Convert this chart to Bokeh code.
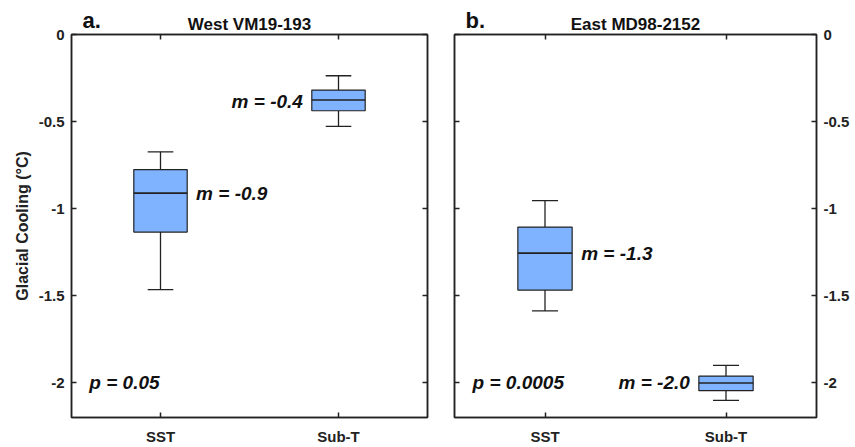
from bokeh.plotting import figure
from bokeh.layouts import row, column
from bokeh.models import (LinearAxis, FixedTicker, NumeralTickFormatter, Range1d,
                          Label, ColumnDataSource, CustomLabelingPolicy)
from bokeh.embed import file_html
from bokeh.resources import INLINE

# ---- data ----
categories = ["SST", "Sub-T"]
positions = [1, 2]

west_title = "West VM19-193"
west_lo = [-1.465, -0.528]
west_q1 = [-1.135, -0.438]
west_med = [-0.911, -0.376]
west_q3 = [-0.776, -0.319]
west_hi = [-0.674, -0.237]
west_m_text = ["m = -0.9", "m = -0.4"]
west_p_text = "p = 0.05"

east_title = "East MD98-2152"
east_lo = [-1.588, -2.102]
east_q1 = [-1.468, -2.046]
east_med = [-1.256, -2.002]
east_q3 = [-1.106, -1.962]
east_hi = [-0.954, -1.901]
east_m_text = ["m = -1.3", "m = -2.0"]
east_p_text = "p = 0.0005"

y_ticks = [-2, -1.5, -1, -0.5, 0]

FONT = "Liberation Sans"
BOX_FILL = "#7FB2FF"
LINE = "#222222"
HEADER_H = 34
OVERLAP = 10

HIDE = "const n = indices.size; for (let i = 0; i < n; i++) { indices.unset(i); } return indices;"


def style_axis(ax, labels=True, size="15px"):
    ax.major_tick_in = 5
    ax.major_tick_out = 0
    ax.minor_tick_in = 0
    ax.minor_tick_out = 0
    ax.axis_line_color = LINE
    ax.axis_line_width = 1.5
    ax.major_tick_line_color = LINE
    ax.major_tick_line_width = 1.5
    ax.major_label_text_font = FONT
    ax.major_label_text_font_style = "bold"
    ax.major_label_text_color = "#222222"
    ax.major_label_text_font_size = size
    ax.major_label_standoff = 7
    if not labels:
        ax.major_label_text_font_size = "0px"
        ax.major_label_standoff = 0
        ax.major_label_policy = CustomLabelingPolicy(code=HIDE)


def make_panel(lo, q1, med, q3, hi, m_text, m_x, m_y, m_align,
               p_text, side, width, bl, br):
    p = figure(width=width, height=447 - HEADER_H + OVERLAP, output_backend="svg",
               toolbar_location=None,
               x_range=Range1d(0.5, 2.5), y_range=Range1d(-2.2, 0),
               min_border_left=bl, min_border_right=br, min_border_top=OVERLAP,
               min_border_bottom=27, x_axis_location="below",
               y_axis_location=side)
    p.grid.visible = False
    p.outline_line_color = LINE
    p.outline_line_width = 1.5
    p.background_fill_color = "white"
    p.border_fill_color = None

    xa = p.xaxis[0]
    xa.ticker = FixedTicker(ticks=positions)
    xa.major_label_overrides = {1: categories[0], 2: categories[1]}
    style_axis(xa)
    xa.major_label_standoff = 10
    ya = p.yaxis[0]
    ya.ticker = FixedTicker(ticks=y_ticks)
    ya.formatter = NumeralTickFormatter(format="0.[0]")
    style_axis(ya)
    if side == "left":
        ya.axis_label = "Glacial Cooling (°C)"
        ya.axis_label_text_font = FONT
        ya.axis_label_text_font_style = "bold"
        ya.axis_label_text_font_size = "16px"
        ya.axis_label_text_color = "#222222"
        ya.axis_label_standoff = 5
    other = LinearAxis(ticker=FixedTicker(ticks=y_ticks))
    style_axis(other, labels=False)
    p.add_layout(other, "right" if side == "left" else "left")
    top = LinearAxis(ticker=FixedTicker(ticks=positions))
    style_axis(top, labels=False)
    p.add_layout(top, "above")

    src = ColumnDataSource(dict(x=positions, lo=lo, q1=q1, med=med, q3=q3, hi=hi,
                                cl=[v - 0.072 for v in positions],
                                cr=[v + 0.072 for v in positions],
                                bl=[v - 0.15 for v in positions],
                                br=[v + 0.15 for v in positions]))
    p.segment(x0="x", y0="q3", x1="x", y1="hi", source=src, line_color=LINE, line_width=1.3)
    p.segment(x0="x", y0="q1", x1="x", y1="lo", source=src, line_color=LINE, line_width=1.3)
    p.segment(x0="cl", y0="hi", x1="cr", y1="hi", source=src, line_color=LINE, line_width=1.3)
    p.segment(x0="cl", y0="lo", x1="cr", y1="lo", source=src, line_color=LINE, line_width=1.3)
    p.vbar(x="x", width=0.3, top="q3", bottom="q1", source=src, fill_color=BOX_FILL,
           line_color=LINE, line_width=1.2)
    p.segment(x0="bl", y0="med", x1="br", y1="med", source=src, line_color=LINE, line_width=1.6)

    for t, x, y, a in zip(m_text, m_x, m_y, m_align):
        p.add_layout(Label(x=x, y=y, text=t, text_align=a, text_baseline="middle",
                           text_font=FONT, text_font_style="bold italic",
                           text_font_size="19px", text_color="#111111"))
    p.add_layout(Label(x=0.6, y=-2.0, text=p_text, text_align="left",
                       text_baseline="middle", text_font=FONT,
                       text_font_style="bold italic", text_font_size="19px",
                       text_color="#111111"))
    return p


P1_W, P1_BL, P1_BR = 440, 71, 13
P2_W, P2_BL, P2_BR = 415, 14, 39

p1 = make_panel(west_lo, west_q1, west_med, west_q3, west_hi,
                west_m_text, [1.2, 1.8], [west_med[0], -0.385], ["left", "right"],
                west_p_text, "left", P1_W, P1_BL, P1_BR)
p2 = make_panel(east_lo, east_q1, east_med, east_q3, east_hi,
                east_m_text, [1.2, 1.8], [east_med[0], -2.0], ["left", "right"],
                east_p_text, "right", P2_W, P2_BL, P2_BR)

# header strip carrying panel letters and titles (pixel coordinates from top)
header = figure(width=855, height=HEADER_H, output_backend="svg", toolbar_location=None,
                x_range=Range1d(0, 855), y_range=Range1d(HEADER_H, 0),
                min_border=0, min_border_left=0, min_border_right=0,
                min_border_top=0, min_border_bottom=0)
header.axis.visible = False
header.grid.visible = False
header.outline_line_color = None
header.border_fill_color = "white"

f1_left, f1_right = P1_BL, P1_W - P1_BR
f2_left, f2_right = P1_W + P2_BL, P1_W + P2_W - P2_BR
for letter, title, fl, fr in [("a.", west_title, f1_left, f1_right),
                              ("b.", east_title, f2_left, f2_right)]:
    header.add_layout(Label(x=(fl + fr) / 2, y=23.8, text=title,
                            text_align="center", text_baseline="middle",
                            text_font=FONT, text_font_style="bold",
                            text_font_size="17px", text_color="#111111"))
    header.add_layout(Label(x=fl + 11, y=19.5, text=letter,
                            text_align="left", text_baseline="middle",
                            text_font=FONT, text_font_style="bold",
                            text_font_size="22px", text_color="#111111"))

panels = row(p1, p2, margin=(-OVERLAP, 0, 0, 0))
layout = column(header, panels)
open("out.html", "w").write(file_html(layout, INLINE))
